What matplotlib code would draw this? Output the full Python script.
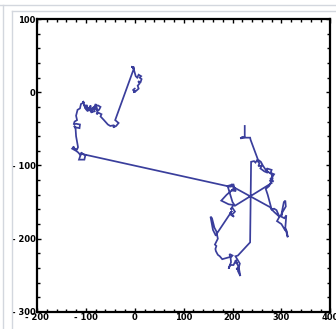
import matplotlib
matplotlib.use('Agg')
import matplotlib.pyplot as plt
from matplotlib.lines import Line2D
from matplotlib.ticker import MultipleLocator, FuncFormatter

# random walk path
walk_x = [0, -4, 2, -3, 3, 8, 6, 10, 7, 12, 14, 10, 13, 8, 5, 2, -3, -7, -1, -4, -2,
          -40, -33, -38, -44, -42, -50, -55, -63, -70, -68, -74, -78, -76, -82, -78,
          -75, -70, -73, -76, -80, -84, -86, -82, -88, -90, -86, -88, -94, -90, -92,
          -98, -95, -96, -100, -97, -103, -101, -106, -104, -110, -112, -117,
          -120, -118, -123, -125, -120, -112, -113, -120, -124, -121, -120, -116,
          -118, -127, -124, -128, -120, -116, -112, -108, -112, -114, -103, -101, -107,
          -110,
          195, 200, 197, 202, 205, 198, 207, 203, 195, 188, 177, 192, 202, 196, 200,
          205, 198, 203, 195, 199, 168, 166, 160, 155, 158, 163, 167, 170, 164, 167,
          165, 166, 170, 174, 179, 195, 194, 200, 196, 197, 192, 195, 202, 205,
          209, 206, 212, 208, 213, 216, 211, 215, 206, 211, 236, 237, 238, 244, 247,
          250, 255, 253, 260, 257, 265, 272, 270, 280, 278, 285, 281, 278, 284,
          276, 280, 205, 200, 190, 195, 277, 280, 285, 290, 296, 300, 305, 308, 309,
          302, 300, 306, 310, 308, 311, 313, 309, 308, 300, 291, 296, 286, 280, 272,
          268, 275, 282, 280, 276, 270, 266, 262, 258, 252, 237, 236, 226, 216,
          220, 225, 225]
walk_y = [5, 3, 1, 0, 2, 5, 9, 12, 15, 14, 18, 20, 22, 24, 20, 22, 34, 35, 34, 33, 32,
          -38, -42, -46, -48, -45, -46, -44, -38, -33, -30, -28, -30, -25, -22, -18,
          -18, -20, -24, -25, -16, -22, -20, -26, -27, -24, -21, -28, -22, -18, -25,
          -20, -23, -26, -23, -18, -18, -22, -12, -14, -16, -22, -24,
          -32, -38, -40, -44, -43, -44, -49, -48, -46, -50, -60, -75,
          -78, -76, -74, -77, -80, -82, -85, -82, -88, -92, -92, -86, -84,
          -84,
          -129, -128, -126, -126, -133, -134, -135, -131, -136, -140, -148, -153, -154, -160, -158,
          -163, -168, -170, -165, -162, -193, -196, -188, -170, -172, -185, -190, -200, -208, -210,
          -214, -217, -222, -224, -228, -225, -221, -223, -226, -232, -241, -236, -236, -232,
          -234, -229, -238, -242, -240, -251, -244, -234, -224, -223, -205, -150, -95, -94, -96,
          -93, -97, -101, -100, -104, -108, -110, -104, -106, -110, -112, -116, -118, -122,
          -120, -124, -155, -150, -128, -127, -157, -160, -159, -161, -170, -167, -150, -148, -156,
          -164, -170, -172, -168, -185, -190, -198, -188, -189, -180, -176, -170, -164, -160, -140,
          -132, -128, -118, -112, -110, -108, -104, -100, -95, -92, -65, -62, -62, -63,
          -61, -61, -46]

x_ticks = [-200, -100, 0, 100, 200, 300, 400]
y_ticks = [-300, -200, -100, 0, 100]

fig = plt.figure(figsize=(3.36, 3.29), dpi=100)
ax = fig.add_axes([0.110, 0.052, 0.873, 0.890])

ax.plot(walk_x, walk_y, color='#3a3e9c', linewidth=1.25, solid_joinstyle='miter')

ax.set_xlim(-200, 400)
ax.set_ylim(-300, 100)
ax.set_xticks(x_ticks)
ax.set_yticks(y_ticks)
ax.xaxis.set_minor_locator(MultipleLocator(20))
ax.yaxis.set_minor_locator(MultipleLocator(20))

fmt = FuncFormatter(lambda v, p: ('- %d' % -v) if v < 0 else '%d' % v)
ax.xaxis.set_major_formatter(fmt)
ax.yaxis.set_major_formatter(fmt)

ax.tick_params(which='both', direction='in', top=True, right=True, width=1, color='black')
ax.tick_params(which='major', length=3, labelsize=6, pad=1)
ax.tick_params(which='minor', length=2)
for lab in ax.get_xticklabels() + ax.get_yticklabels():
    lab.set_fontweight('bold')
for s in ax.spines.values():
    s.set_linewidth(1.6)

# light grey frame around the panel
grey = '#d3d7de'
fig.add_artist(Line2D([0, 1], [1 - 5 / 329, 1 - 5 / 329], color=grey, lw=1))
fig.add_artist(Line2D([12 / 336, 1], [1 - 11 / 329, 1 - 11 / 329], color=grey, lw=1))
fig.add_artist(Line2D([3 / 336, 3 / 336], [0, 1 - 5 / 329], color=grey, lw=1))
fig.add_artist(Line2D([12 / 336, 12 / 336], [0, 1 - 11 / 329], color=grey, lw=1))

fig.savefig('out.png', dpi=100)
